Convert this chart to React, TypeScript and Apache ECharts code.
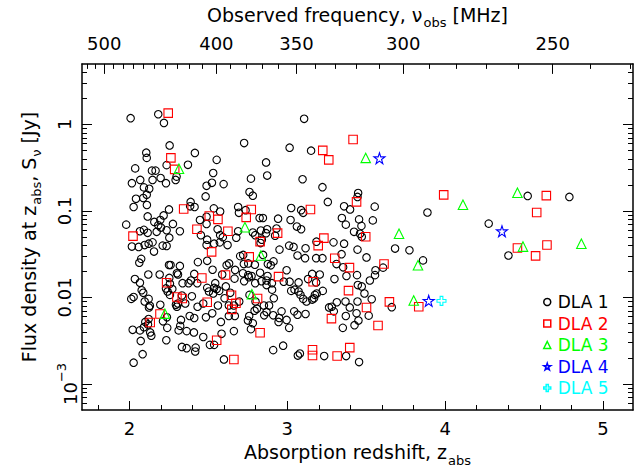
import React, { useEffect, useRef } from "react";
import * as echarts from "echarts";

// ---------- data: absorption redshift (z) and flux density S (Jy) ----------
const dla1Z = [
  2.008, 2.183, 2.219, 2.255, 2.107, 2.110, 2.037, 2.143, 2.166, 2.236,
  2.371, 2.415, 2.553, 2.727, 3.015, 3.151, 3.107, 2.866, 2.531, 2.770,
  2.873, 2.069, 2.016, 2.147, 2.198, 2.232, 2.293, 2.299, 2.092, 2.126,
  2.042, 2.088, 2.110, 2.388, 2.489, 2.523, 2.597, 2.483, 2.761, 2.782,
  3.097, 3.223, 3.257, 3.449, 3.445, 4.523, 4.787,
  2.027, 2.111, 2.251, 2.385, 2.413, 2.535, 2.575, 2.689, 2.736, 3.025, 3.088, 3.360, 3.398,
  2.116, 2.217, 2.196, 2.158, 2.276, 2.447, 2.489, 2.489, 2.694, 2.825, 2.846, 2.942, 3.021, 3.101, 3.346, 3.455,
  1.980, 2.067, 2.092, 2.116, 2.183, 2.200, 2.236, 2.320, 2.173, 2.453, 2.559, 2.575, 2.689, 2.782, 2.833, 2.866, 2.873, 2.932, 3.061, 3.088, 3.371, 3.423,
  2.016, 2.059, 2.097, 2.122, 2.147, 2.156, 2.211, 2.236, 2.253, 2.493, 2.489, 2.537, 2.573, 2.592, 2.622, 2.677, 2.797, 2.831, 2.839, 2.923, 3.012, 3.040, 3.116, 3.185, 3.293, 3.360, 3.445,
  2.075, 2.063, 2.251, 2.261, 2.320, 2.434, 2.493, 2.527, 2.616, 2.632, 2.670, 2.702, 2.721, 2.725, 2.753, 2.795, 2.847, 2.877, 2.896, 2.913, 2.951, 2.996, 3.065, 3.113, 3.183, 3.223, 3.312, 3.344, 3.442,
  2.035, 2.067, 2.120, 2.192, 2.253, 2.257, 2.301, 2.308, 2.337, 2.375,
  2.390, 2.411, 2.430, 2.544, 2.588, 2.493, 2.553, 2.611, 2.666, 2.719,
  2.727, 2.753, 2.757, 2.774, 2.797, 2.828, 2.837, 2.869, 2.903, 2.869,
  2.904, 2.875, 2.978, 3.015, 3.072, 3.132, 3.158, 3.206, 3.183, 3.225,
  3.299, 3.447,
  2.012, 2.027, 2.078, 2.088, 2.097, 2.122, 2.130, 2.124, 2.196, 2.232,
  2.242, 2.257, 2.272, 2.295, 2.301, 2.308, 2.333, 2.354, 2.396, 2.432,
  2.468, 2.504, 2.531, 2.537, 2.569, 2.561, 2.603, 2.630, 2.639, 2.662,
  2.696, 2.761, 2.799, 2.808, 2.852, 2.885, 2.915, 3.025, 3.046, 3.072,
  3.084, 3.101, 3.122, 3.158, 3.175, 3.187, 3.170, 3.265, 3.282, 3.314,
  3.369, 3.396, 3.445,
  2.101, 2.118, 2.122, 2.213, 2.238, 2.327, 2.322, 2.382, 2.411, 2.485,
  2.525, 2.580, 2.630, 2.668, 2.751, 2.759, 2.782, 2.793, 2.854, 2.869,
  2.911, 2.945, 2.949, 2.964, 2.996, 3.044, 3.065, 3.116, 3.295, 3.371,
  3.439,
  2.021, 2.067, 2.092, 2.132, 2.139, 2.240, 2.234, 2.312, 2.363, 2.409,
  2.468, 2.584, 2.662, 2.770, 3.012, 3.352, 3.426, 3.451, 2.072, 2.084,
  2.027, 2.333, 2.363, 2.420, 2.417, 2.510, 2.537, 2.599, 2.911, 2.974,
  3.067, 3.080, 3.234, 3.373, 3.455,
  3.554, 3.470, 3.542, 3.888, 4.276, 3.461, 3.472, 3.502, 3.683, 3.774,
  3.860, 4.401, 3.559, 3.607, 3.556, 3.523, 3.472, 3.489, 3.535, 3.354,
  3.375, 3.516, 3.662,
];
const dla1S = [
  1.18, 1.31, 1.04, 0.571, 0.471, 0.410, 0.310, 0.292, 0.292, 0.338,
  0.341, 0.468, 0.389, 0.608, 0.538, 0.497, 1.16, 0.363, 0.274, 0.236,
  0.256, 0.228, 0.209, 0.228, 0.240, 0.209, 0.228, 0.249, 0.187, 0.180,
  0.138, 0.141, 0.154, 0.127, 0.195, 0.211, 0.204, 0.147, 0.165, 0.150,
  0.232, 0.188, 0.127, 0.161, 0.145, 0.149, 0.145,
  0.111, 0.117, 0.104, 0.113, 0.111, 0.107, 0.0985, 0.111, 0.102, 0.108, 0.102, 0.113, 0.104,
  0.0863, 0.0886, 0.0785, 0.0745, 0.0707, 0.0785, 0.0707, 0.0856, 0.0951, 0.0828, 0.0828, 0.0813, 0.0785, 0.0951, 0.0828, 0.0798,
  0.0694, 0.0582, 0.0604, 0.0558, 0.0682, 0.0642, 0.0598, 0.0582, 0.0573, 0.0524, 0.0614, 0.0524, 0.0582, 0.0563, 0.0593, 0.0553, 0.0614, 0.0625, 0.0659, 0.0614, 0.0694, 0.0573,
  0.0387, 0.0383, 0.0403, 0.0418, 0.0433, 0.0339, 0.0397, 0.0393, 0.0490, 0.0465, 0.0403, 0.0418, 0.0433, 0.0497, 0.0403, 0.0490, 0.0524, 0.0425, 0.0465, 0.0516, 0.0397, 0.0383, 0.0370, 0.0441, 0.0433, 0.0418, 0.0357,
  0.0279, 0.0252, 0.0237, 0.0237, 0.0231, 0.0256, 0.0265, 0.0209, 0.0235, 0.0247, 0.0208, 0.0300, 0.0310, 0.0243, 0.0247, 0.0239, 0.0310, 0.0243, 0.0235, 0.0261, 0.0357, 0.0206, 0.0305, 0.0284, 0.0284, 0.0284, 0.0243, 0.0316, 0.0181,
  0.0163, 0.0148, 0.0184, 0.0184, 0.0168, 0.0144, 0.0190, 0.0184, 0.0146, 0.0146,
  0.0157, 0.0187, 0.0146, 0.0146, 0.0184, 0.0129, 0.0125, 0.0134, 0.0165, 0.0190,
  0.0154, 0.0181, 0.0171, 0.0177, 0.0146, 0.0193, 0.0154, 0.0157, 0.0146, 0.0139,
  0.0123, 0.0177, 0.0152, 0.0152, 0.0149, 0.0163, 0.0187, 0.0184, 0.0149, 0.0119,
  0.0163, 0.0139,
  0.00962, 0.0101, 0.0121, 0.0113, 0.00897, 0.00962, 0.00801, 0.00766, 0.00822, 0.0127,
  0.0117, 0.0107, 0.0125, 0.00822, 0.00780, 0.00851, 0.0105, 0.00851, 0.0103, 0.00780,
  0.00851, 0.0117, 0.0111, 0.0129, 0.0119, 0.00807, 0.00978, 0.00807, 0.0113, 0.00807,
  0.00897, 0.0107, 0.00897, 0.00740, 0.00807, 0.00807, 0.00978, 0.0119, 0.0123, 0.0117,
  0.0107, 0.00962, 0.00897, 0.00945, 0.0107, 0.0111, 0.00978, 0.00766, 0.00780, 0.00880,
  0.00897, 0.00766, 0.00897,
  0.00521, 0.00487, 0.00563, 0.00530, 0.00589, 0.00549, 0.00469, 0.00610, 0.00578, 0.00589,
  0.00655, 0.00521, 0.00610, 0.00610, 0.00540, 0.00610, 0.00503, 0.00703, 0.00621, 0.00677,
  0.00621, 0.00521, 0.00578, 0.00690, 0.00549, 0.00690, 0.00632, 0.00643, 0.00690, 0.00610,
  0.00655,
  0.00422, 0.00416, 0.00453, 0.00394, 0.00361, 0.00445, 0.00320, 0.00416, 0.00408, 0.00394,
  0.00349, 0.00380, 0.00408, 0.00430, 0.00445, 0.00445, 0.00478, 0.00540, 0.00314, 0.00221,
  0.00176, 0.00268, 0.00259, 0.00263, 0.00237, 0.00283, 0.00283, 0.00192, 0.00246, 0.00277,
  0.00213, 0.00225, 0.00210, 0.00210, 0.00179,
  0.112, 0.0671, 0.0777, 0.0959, 0.0713, 0.0544, 0.0503, 0.0290, 0.0367, 0.0351,
  0.0268, 0.0305, 0.0206, 0.0221, 0.0181, 0.0157, 0.0134, 0.0111, 0.00953, 0.0223,
  0.0177, 0.00616, 0.00772,
];

const dla2Z = [
  2.246, 2.263, 2.287, 2.344, 2.506, 2.561, 2.740, 2.772, 3.147, 3.225,
  3.263, 3.417, 3.439, 3.991, 4.641, 4.580, 2.023, 2.428, 2.624, 2.828,
  2.939, 3.232, 3.196, 2.521, 2.759, 3.301, 3.394, 2.609, 2.459, 2.945,
  2.236, 3.164, 3.388, 2.301, 2.335, 2.647, 2.812, 2.493, 2.675, 2.649,
  2.194, 2.132, 3.280, 2.828, 2.553, 3.160, 3.160, 3.316, 3.396, 2.662,
  3.497, 4.458, 4.645, 4.573, 3.613, 3.502, 3.647, 3.833, 3.575,
];
const dla2S = [
  1.35, 0.410, 0.302, 0.105, 0.0872, 0.0798, 0.0841, 0.104, 0.104, 0.501,
  0.389, 0.668, 0.127, 0.153, 0.150, 0.0959, 0.0511, 0.0614, 0.0582, 0.0441,
  0.0553, 0.0484, 0.0397, 0.0336, 0.0294, 0.0284, 0.0221, 0.0182, 0.0168, 0.0174,
  0.0148, 0.0152, 0.0120, 0.0101, 0.00970, 0.0106, 0.00970, 0.00880, 0.00857, 0.00727,
  0.00643, 0.00513, 0.00569, 0.00390, 0.00320, 0.00248, 0.00213, 0.00210, 0.00263, 0.00192,
  0.0503, 0.0373, 0.0403, 0.0302, 0.0243, 0.00766, 0.00889, 0.00780, 0.00474,
];

const dla3Z = [2.314, 3.497, 4.113, 4.458, 2.732, 2.833, 2.776, 2.225, 3.708, 4.493, 4.863, 3.828, 3.801];
const dla3S = [0.307, 0.410, 0.118, 0.162, 0.0647, 0.0305, 0.0109, 0.00649, 0.0544, 0.0387, 0.0418, 0.0235, 0.00920];

const dla4Z = [3.584, 4.360, 3.896];
const dla4S = [0.406, 0.0582, 0.00913];

const dla5Z = [3.977];
const dla5S = [0.00913];

// ---------- axes: ticks and labels ----------
const zMajor = [2, 3, 4, 5];
const zMinor = [1.8, 2.2, 2.4, 2.6, 2.8, 3.2, 3.4, 3.6, 3.8, 4.2, 4.4, 4.6, 4.8];
const freqMajor = [500, 400, 350, 300, 250];
const freqMinor = [520, 510, 490, 480, 470, 460, 450, 440, 430, 420, 410, 390, 380, 370, 360, 340, 330, 320, 310, 290, 280, 270, 260, 240, 230];
const sMajor = [0.001, 0.01, 0.1, 1];
const sMajorText = ["{b|10}{p|−3}", "{n|0.01}", "{n|0.1}", "{n|1}"];
const sMinor = [
  0.0006, 0.0007, 0.0008, 0.0009,
  0.002, 0.003, 0.004, 0.005, 0.006, 0.007, 0.008, 0.009,
  0.02, 0.03, 0.04, 0.05, 0.06, 0.07, 0.08, 0.09,
  0.2, 0.3, 0.4, 0.5, 0.6, 0.7, 0.8, 0.9,
  2, 3, 4,
];

const seriesNames = ["DLA 1", "DLA 2", "DLA 3", "DLA 4", "DLA 5"];
const seriesColors = ["#000000", "#ff0000", "#00ff00", "#0000ff", "#00ffff"];

const REST_FREQ_MHZ = 1420.40575;
const FONT = "DejaVu Sans";
const STAR = "path://M50,2 L61,36 L97,36 L68,57 L79,92 L50,71 L21,92 L32,57 L3,36 L39,36 Z";
const PLUS = "path://M36,4 L64,4 L64,36 L96,36 L96,64 L64,64 L64,96 L36,96 L36,64 L4,64 L4,36 L36,36 Z";

export default function App() {
  const ref = useRef<HTMLDivElement>(null);

  useEffect(() => {
    if (!ref.current) return;
    const chart = echarts.init(ref.current, null, { renderer: "svg" });
    const lg = (v: number) => Math.log10(v);
    const zOfFreq = (f: number) => REST_FREQ_MHZ / f - 1;
    const X_MIN = 1.7;
    const X_MAX = 5.19;
    const Y_MIN = lg(5e-4);
    const Y_MAX = lg(5);
    const K = "#000";
    const tickStyle = { color: K, width: 1 };
    const frame = { show: true, onZero: false, lineStyle: { color: K, width: 1.5 } };
    const noLine = { show: false, onZero: false };
    const titleRich = {
      t: { fontFamily: FONT, fontSize: 19, color: K, lineHeight: 22, verticalAlign: "top" },
      s: { fontFamily: FONT, fontSize: 13, color: K, lineHeight: 13, padding: [11, 0, 0, 1], verticalAlign: "top" },
    };
    const tickFont = { fontFamily: FONT, fontSize: 18, color: K };

    const pts = (z: number[], s: number[]) => z.map((v, i) => [v, lg(s[i])]);
    const symbols = ["circle", "rect", "triangle", STAR, PLUS];
    const sizes = [7.5, 8.5, 9.5, 11, 9];
    const dataSets = [
      pts(dla1Z, dla1S),
      pts(dla2Z, dla2S),
      pts(dla3Z, dla3S),
      pts(dla4Z, dla4S),
      pts(dla5Z, dla5S),
    ];

    const option: any = {
      animation: false,
      backgroundColor: "#ffffff",
      grid: { left: 82, top: 59, width: 551, height: 351, containLabel: false },
      legend: {
        orient: "vertical",
        left: 543,
        top: 293,
        padding: 0,
        itemWidth: 7,
        itemHeight: 7,
        itemGap: 3.5,
        selectedMode: false,
        itemStyle: { borderWidth: 1.5 },
        textStyle: { fontFamily: FONT, fontSize: 17, lineHeight: 18, padding: [0, 0, 0, 2] },
        data: seriesNames.map((n, i) => ({ name: n, textStyle: { color: seriesColors[i] } })),
      },
      xAxis: [
        {
          type: "value",
          position: "bottom",
          min: X_MIN,
          max: X_MAX,
          axisLine: frame,
          splitLine: { show: false },
          axisTick: { inside: true, length: 9, customValues: zMajor, lineStyle: tickStyle },
          axisLabel: { customValues: zMajor, margin: 8, lineHeight: 20, ...tickFont },
          name: "{t|Absorption redshift, z}{s|abs}",
          nameLocation: "middle",
          nameGap: 28,
          nameTextStyle: { rich: titleRich },
        },
        {
          type: "value",
          position: "bottom",
          min: X_MIN,
          max: X_MAX,
          axisLine: noLine,
          splitLine: { show: false },
          axisTick: { inside: true, length: 5, customValues: zMinor, lineStyle: tickStyle },
          axisLabel: { show: false },
        },
        {
          type: "value",
          position: "top",
          min: X_MIN,
          max: X_MAX,
          axisLine: frame,
          splitLine: { show: false },
          axisTick: { inside: true, length: 10, customValues: freqMajor.map(zOfFreq), lineStyle: tickStyle },
          axisLabel: {
            customValues: freqMajor.map(zOfFreq),
            margin: 10,
            lineHeight: 20,
            ...tickFont,
            formatter: (v: number) => String(Math.round(REST_FREQ_MHZ / (1 + v))),
          },
          name: "{t|Observed frequency, ν}{s|obs}{t| [MHz]}",
          nameLocation: "middle",
          nameGap: 33,
          nameTextStyle: { rich: titleRich },
        },
        {
          type: "value",
          position: "top",
          min: X_MIN,
          max: X_MAX,
          axisLine: noLine,
          splitLine: { show: false },
          axisTick: { inside: true, length: 5, customValues: freqMinor.map(zOfFreq), lineStyle: tickStyle },
          axisLabel: { show: false },
        },
      ],
      yAxis: [
        {
          type: "value",
          position: "left",
          min: Y_MIN,
          max: Y_MAX,
          axisLine: frame,
          splitLine: { show: false },
          axisTick: { inside: true, length: 10, customValues: sMajor.map(lg), lineStyle: tickStyle },
          axisLabel: {
            customValues: sMajor.map(lg),
            rotate: 90,
            margin: 7,
            formatter: (v: number) => {
              const i = sMajor.findIndex((m) => Math.abs(lg(m) - v) < 1e-6);
              return i >= 0 ? sMajorText[i] : "";
            },
            rich: {
              n: { fontFamily: FONT, fontSize: 18, color: K, lineHeight: 20, verticalAlign: "top" },
              b: { fontFamily: FONT, fontSize: 18, color: K, lineHeight: 20, padding: [6, 0, 0, 0], verticalAlign: "top" },
              p: { fontFamily: FONT, fontSize: 13, color: K, lineHeight: 13, verticalAlign: "top" },
            },
          },
          name: "{t|Flux density at z}{s|abs}{t|, S}{s|ν}{t| [Jy]}",
          nameLocation: "middle",
          nameGap: 41,
          nameTextStyle: { rich: titleRich },
        },
        {
          type: "value",
          position: "left",
          min: Y_MIN,
          max: Y_MAX,
          axisLine: noLine,
          splitLine: { show: false },
          axisTick: { inside: true, length: 5, customValues: sMinor.map(lg), lineStyle: tickStyle },
          axisLabel: { show: false },
        },
        {
          type: "value",
          position: "right",
          min: Y_MIN,
          max: Y_MAX,
          axisLine: frame,
          splitLine: { show: false },
          axisTick: { inside: true, length: 10, customValues: sMajor.map(lg), lineStyle: tickStyle },
          axisLabel: { show: false },
        },
        {
          type: "value",
          position: "right",
          min: Y_MIN,
          max: Y_MAX,
          axisLine: noLine,
          splitLine: { show: false },
          axisTick: { inside: true, length: 5, customValues: sMinor.map(lg), lineStyle: tickStyle },
          axisLabel: { show: false },
        },
      ],
      series: seriesNames.map((n, i) => ({
        name: n,
        type: "scatter",
        xAxisIndex: 0,
        yAxisIndex: 0,
        symbol: symbols[i],
        symbolSize: sizes[i],
        data: dataSets[i],
        itemStyle: { color: "rgba(0,0,0,0)", borderColor: seriesColors[i], borderWidth: 1.1, opacity: 1 },
        emphasis: { disabled: true },
      })),
    };

    chart.setOption(option);
    return () => chart.dispose();
  }, []);

  return (
    <div
      ref={ref}
      style={{ position: "fixed", left: 0, top: 0, width: 636, height: 472, background: "#fff" }}
    />
  );
}
